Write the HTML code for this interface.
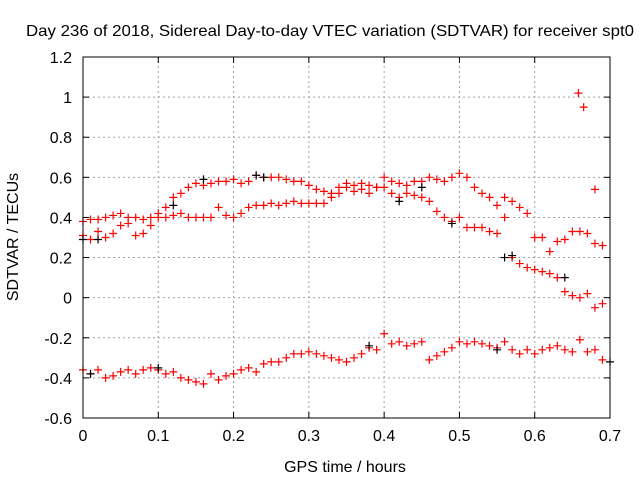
<!DOCTYPE html>
<html><head><meta charset="utf-8"><style>
body{margin:0;background:#fff;}
svg text{font-family:"Liberation Sans",sans-serif;font-size:16px;fill:#000;}
</style></head><body>
<svg width="640" height="480" xmlns="http://www.w3.org/2000/svg">
<text x="330" y="36" text-anchor="middle" textLength="608" lengthAdjust="spacingAndGlyphs">Day 236 of 2018, Sidereal Day-to-day VTEC variation (SDTVAR) for receiver spt0</text>
<text x="345" y="472" text-anchor="middle">GPS time / hours</text>
<text x="18" y="237" text-anchor="middle" transform="rotate(-90 18 237)">SDTVAR / TECUs</text>
<g id="grid"></g><g id="ticks"></g><g id="marks"></g>
<rect x="83" y="57" width="527" height="361" fill="none" stroke="#000" stroke-width="1"/>
</svg>
<script>
const xTicks=[0,0.1,0.2,0.3,0.4,0.5,0.6,0.7];
const xTickLabels=["0","0.1","0.2","0.3","0.4","0.5","0.6","0.7"];
const yTicks=[-0.6,-0.4,-0.2,0,0.2,0.4,0.6,0.8,1,1.2];
const yTickLabels=["-0.6","-0.4","-0.2","0","0.2","0.4","0.6","0.8","1","1.2"];
const xStep=0.01;
const bandA=[0.38,0.39,0.39,0.40,0.41,0.42,0.40,0.40,0.39,0.40,0.42,0.45,0.50,0.52,0.55,0.57,0.56,0.57,0.58,0.58,0.59,0.57,0.58,0.61,0.60,0.60,0.60,0.59,0.58,0.58,0.56,0.54,0.53,0.52,0.55,0.57,0.56,0.57,0.56,0.55,0.60,0.58,0.57,0.56,0.58,0.58,0.60,0.59,0.58,0.60,0.62,0.60,0.55,0.52,0.50,0.46,0.40,0.20,0.17,0.15,0.14,0.13,0.12,0.10,0.03,0.01,0.00,0.02,-0.05,-0.03];
const bandB=[0.31,0.29,0.33,0.30,0.32,0.36,0.37,0.31,0.32,0.36,0.40,0.40,0.41,0.42,0.40,0.40,0.40,0.40,0.45,0.41,0.40,0.42,0.45,0.46,0.46,0.47,0.46,0.47,0.48,0.47,0.47,0.47,0.47,0.50,0.52,0.55,0.53,0.54,0.52,0.55,0.55,0.52,0.50,0.52,0.51,0.50,0.48,0.43,0.40,0.38,0.40,0.35,0.35,0.35,0.33,0.32,0.50,0.48,0.45,0.42,0.30,0.30,0.23,0.28,0.29,0.33,0.33,0.32,0.27,0.26];
const bandC=[-0.36,-0.38,-0.36,-0.40,-0.39,-0.37,-0.36,-0.38,-0.36,-0.35,-0.36,-0.38,-0.37,-0.40,-0.41,-0.42,-0.43,-0.38,-0.41,-0.39,-0.38,-0.36,-0.35,-0.37,-0.33,-0.32,-0.32,-0.30,-0.28,-0.28,-0.27,-0.28,-0.29,-0.30,-0.31,-0.32,-0.30,-0.28,-0.25,-0.26,-0.18,-0.23,-0.22,-0.24,-0.23,-0.22,-0.31,-0.29,-0.27,-0.25,-0.22,-0.23,-0.22,-0.23,-0.24,-0.25,-0.22,-0.26,-0.28,-0.26,-0.28,-0.26,-0.25,-0.24,-0.26,-0.27,-0.21,-0.27,-0.26,-0.31];
const outlierX=[0.658,0.665,0.68];
const outlierY=[1.02,0.95,0.54];
const blackX=[0.0,0.02,0.12,0.16,0.23,0.24,0.42,0.45,0.49,0.56,0.57,0.64,0.01,0.10,0.38,0.55,0.70];
const blackY=[0.29,0.29,0.46,0.59,0.61,0.60,0.48,0.55,0.37,0.20,0.21,0.10,-0.38,-0.35,-0.24,-0.26,-0.32];

const X0=83,X1=610,Y0=418,Y1=57;
const sx=v=>X0+(v-0)/(0.7-0)*(X1-X0);
const sy=v=>Y0-(v+0.6)/(1.8)*(Y0-Y1);
const NS="http://www.w3.org/2000/svg";
function mk(tag,attrs,parent){const e=document.createElementNS(NS,tag);for(const k in attrs)e.setAttribute(k,attrs[k]);parent.appendChild(e);return e;}
const grid=document.getElementById('grid'),ticks=document.getElementById('ticks'),marks=document.getElementById('marks');
xTicks.forEach((t,i)=>{const x=sx(t);
 if(i>0&&i<xTicks.length-1){const g=mk('line',{x1:x,x2:x,y1:Y0,y2:Y1,stroke:'#a0a0a0','stroke-dasharray':'2,3'},grid);
 
 }
 mk('line',{x1:x,x2:x,y1:Y0,y2:Y0-6,stroke:'#000'},ticks);
 mk('line',{x1:x,x2:x,y1:Y1,y2:Y1+6,stroke:'#000'},ticks);
 const l=mk('text',{x:x,y:Y0+23,'text-anchor':'middle'},ticks);l.textContent=xTickLabels[i];
 
 });
yTicks.forEach((t,i)=>{const y=sy(t);
 if(i>0&&i<yTicks.length-1){const g=mk('line',{x1:X0,x2:X1,y1:y,y2:y,stroke:'#a0a0a0','stroke-dasharray':'2,3'},grid);
 
 }
 mk('line',{x1:X0,x2:X0+6,y1:y,y2:y,stroke:'#000'},ticks);
 mk('line',{x1:X1,x2:X1-6,y1:y,y2:y,stroke:'#000'},ticks);
 const l=mk('text',{x:X0-11,y:y+6,'text-anchor':'end'},ticks);l.textContent=yTickLabels[i];
 
 });
function plus(xv,yv,col,name){const x=sx(xv),y=sy(yv);
 const p=mk('path',{d:`M${x-4} ${y}H${x+4}M${x} ${y-4}V${y+4}`,stroke:col,'stroke-width':1.2,fill:'none'},marks);
 
 }
[bandA,bandB,bandC].forEach(arr=>arr.forEach((v,i)=>plus(i*xStep,v,'#ff0000','data-point')));
outlierX.forEach((x,i)=>plus(x,outlierY[i],'#ff0000','outlier-point'));
blackX.forEach((x,i)=>plus(x,blackY[i],'#000000','black-data-point'));
</script>
</body></html>
